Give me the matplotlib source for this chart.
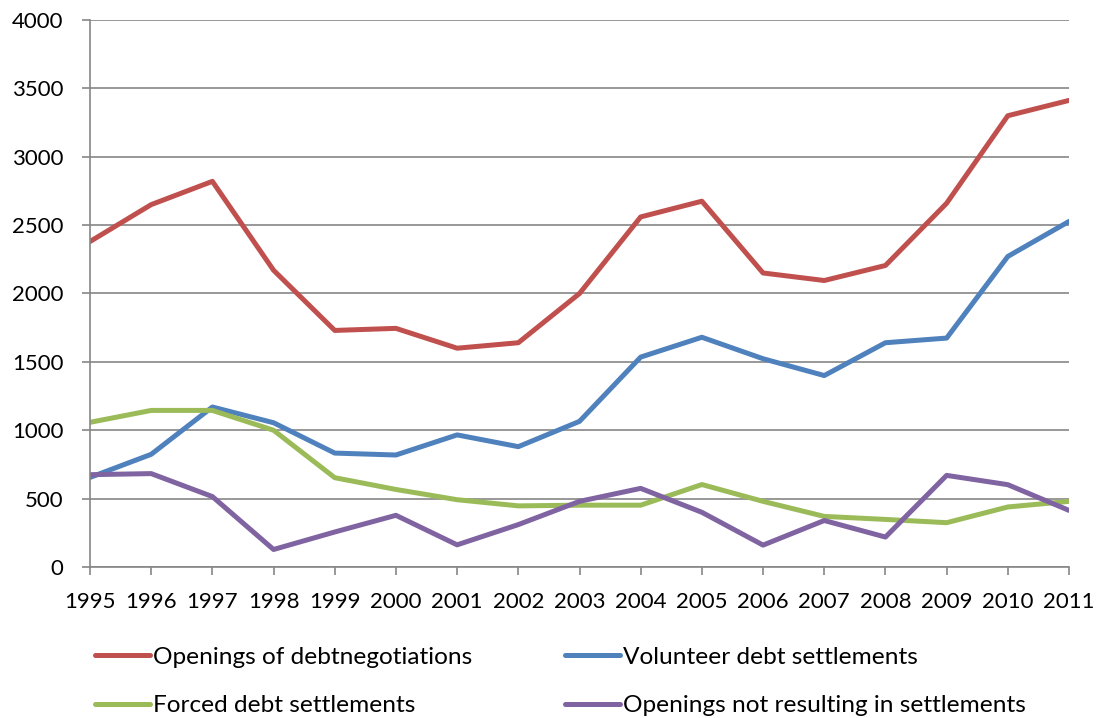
import matplotlib
matplotlib.use("Agg")
import matplotlib.pyplot as plt

years = list(range(1995, 2012))
openings = [2380, 2650, 2820, 2170, 1730, 1745, 1600, 1640, 2000, 2560, 2675, 2150, 2095, 2205, 2660, 3300, 3412]
volunteer = [655, 824, 1170, 1055, 833, 819, 966, 880, 1065, 1535, 1680, 1523, 1400, 1640, 1674, 2271, 2527]
forced = [1058, 1145, 1145, 1000, 653, 567, 492, 447, 452, 452, 603, 480, 370, 348, 324, 439, 480]
not_resulting = [675, 683, 515, 128, 256, 378, 162, 310, 480, 575, 400, 160, 340, 219, 670, 602, 414]

labels = ["Openings of debtnegotiations", "Volunteer debt settlements",
          "Forced debt settlements", "Openings not resulting in settlements"]
colors = ["#C0504D", "#4F81BD", "#9BBB59", "#8064A2"]
yticks = list(range(0, 4001, 500))

plt.rcParams['font.family'] = ['Lato', 'DejaVu Sans']

W, H = 1097, 718
fig = plt.figure(figsize=(W/100, H/100), dpi=100)
ax = fig.add_axes([90/W, 1-567/H, (1069-90)/W, (567-20)/H])

series = [openings, volunteer, forced, not_resulting]
handles = []
for s, c, l in zip(series, colors, labels):
    h, = ax.plot(years, s, color=c, lw=3.6, label=l, solid_capstyle='round', solid_joinstyle='round')
    handles.append(h)

ax.set_xlim(1995, 2011)
ax.set_ylim(0, 4000)
ax.set_yticks(yticks)
ax.set_xticks(years)
ax.set_xticklabels([str(y) for y in years])
ax.yaxis.grid(True, color="#868686", lw=1.2)
ax.set_axisbelow(True)
for sp in ["top", "right"]:
    ax.spines[sp].set_visible(False)
for sp in ["left", "bottom"]:
    ax.spines[sp].set_color("#868686")
    ax.spines[sp].set_linewidth(1.2)
ax.tick_params(axis='both', labelsize=16, color="#868686", length=6, width=1.2, labelcolor="black")
ax.tick_params(axis='x', pad=12)
ax.tick_params(axis='y', pad=13)

# fit legend font so the first label is ~320 px wide, as in the reference
renderer = fig.canvas.get_renderer()
probe = fig.text(0, 0, labels[0], fontsize=16)
wpx = probe.get_window_extent(renderer).width
probe.remove()
legfs = 16 * 320 / wpx
fspx = legfs * 100 / 72

order = [0, 2, 1, 3]
target_left = 153
target_col2 = 623
target_row1 = H - 657   # display y (from bottom)
target_dy = 49

anchor = [93/W, 1-638/H]
colsp = 4.2
labsp = 0.85
leg = None
for _ in range(4):
    if leg is not None:
        leg.remove()
    leg = fig.legend([handles[i] for i in order], [labels[i] for i in order],
                     ncol=2, loc='upper left', bbox_to_anchor=tuple(anchor),
                     frameon=False, fontsize=legfs, handlelength=55/fspx, handletextpad=3/fspx,
                     columnspacing=colsp, labelspacing=labsp, borderpad=0, borderaxespad=0)
    fig.canvas.draw()
    texts = leg.get_texts()
    e0 = texts[0].get_window_extent(renderer)
    e1 = texts[1].get_window_extent(renderer)
    e2 = texts[2].get_window_extent(renderer)
    cy0 = (e0.y0 + e0.y1) / 2
    cy1 = (e1.y0 + e1.y1) / 2
    anchor[0] += (target_left - e0.x0) / W
    anchor[1] += (target_row1 - cy0) / H
    colsp += (target_col2 - e2.x0) / fspx
    labsp += (target_dy - (cy0 - cy1)) / fspx

fig.savefig("out.png", dpi=100)
